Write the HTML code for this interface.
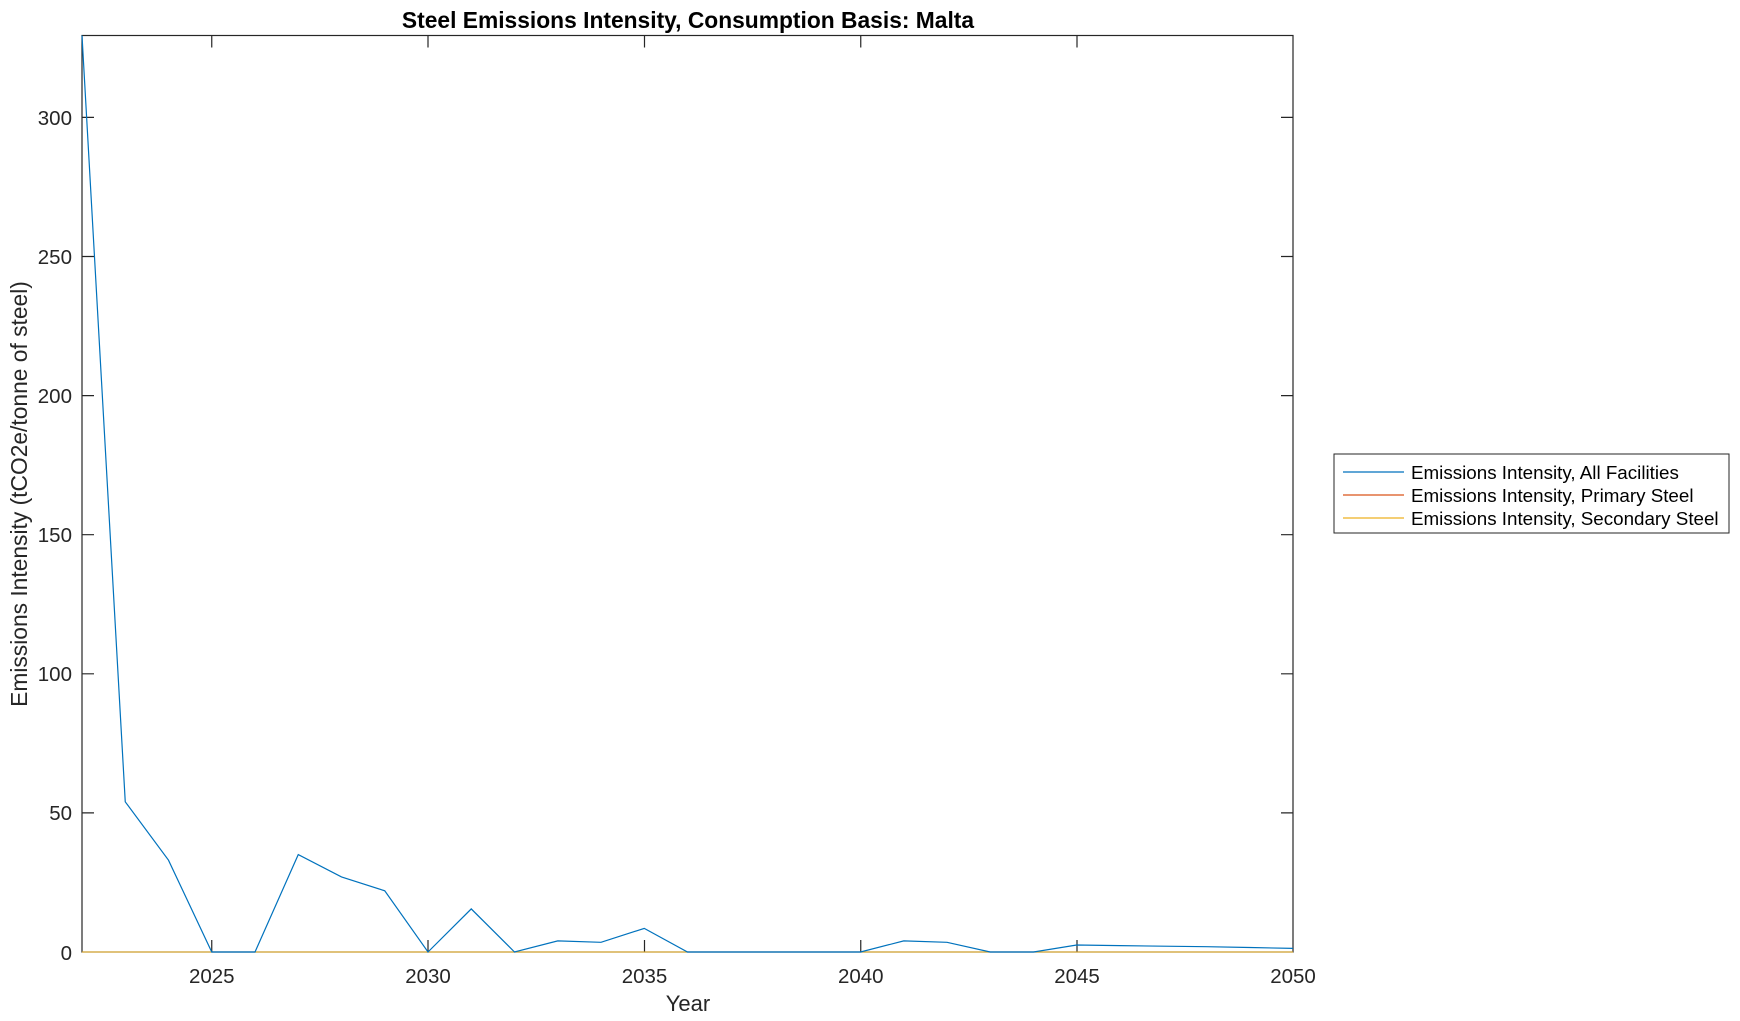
<!DOCTYPE html>
<html><head><meta charset="utf-8"><style>html,body{margin:0;padding:0;background:#fff}svg{display:block}</style></head>
<body>
<svg width="1740" height="1021" xmlns="http://www.w3.org/2000/svg" font-family="Liberation Sans, sans-serif">
<rect width="1740" height="1021" fill="#fff"/>
<text x="688" y="28" text-anchor="middle" font-size="22.8" font-weight="bold" fill="#000">Steel Emissions Intensity, Consumption Basis: Malta</text>
<g stroke="#262626" stroke-width="1.2" fill="none">
<rect x="82" y="35.5" width="1211" height="916.5"/>
<path d="M211.75 952v-12M211.75 35.5v12M428 952v-12M428 35.5v12M644.5 952v-12M644.5 35.5v12M860.75 952v-12M860.75 35.5v12M1077 952v-12M1077 35.5v12"/>
<path d="M82 117.4h12M1293 117.4h-12M82 256.5h12M1293 256.5h-12M82 395.6h12M1293 395.6h-12M82 534.7h12M1293 534.7h-12M82 673.8h12M1293 673.8h-12M82 812.9h12M1293 812.9h-12"/>
</g>
<g font-size="20.5" fill="#262626" text-anchor="end">
<text x="72" y="125">300</text><text x="72" y="264">250</text><text x="72" y="403">200</text><text x="72" y="542">150</text><text x="72" y="681">100</text><text x="72" y="820">50</text><text x="72" y="960">0</text>
</g>
<g font-size="20.5" fill="#262626" text-anchor="middle">
<text x="211.75" y="983">2025</text><text x="428" y="983">2030</text><text x="644.5" y="983">2035</text><text x="860.75" y="983">2040</text><text x="1077" y="983">2045</text><text x="1293" y="983">2050</text>
</g>
<text x="688" y="1011" text-anchor="middle" font-size="22" fill="#262626">Year</text>
<text transform="translate(27,494) rotate(-90)" text-anchor="middle" font-size="22.8" fill="#262626">Emissions Intensity (tCO2e/tonne of steel)</text>
<line x1="82" y1="952" x2="1293" y2="952" stroke="#D95319" stroke-width="1"/>
<line x1="82" y1="952" x2="1293" y2="952" stroke="#EDB120" stroke-width="1"/>
<polyline fill="none" stroke="#0072BD" stroke-width="1.2" points="82,35.5 125.25,801.8 168.5,860.2 211.75,952 255,952 298.25,854.6 341.5,876.9 384.75,890.8 428,952 471.25,908.9 514.5,952 557.75,940.9 601,942.3 644.25,928.4 687.5,952 730.75,952 774,952 817.25,952 860.5,952 903.75,940.9 947,942.3 990.25,952 1033.5,952 1076.75,945 1120,945.6 1163.25,946.2 1206.5,946.7 1249.75,947.5 1293,948.4"/>
<rect x="1334" y="454" width="395" height="79" fill="#fff" stroke="#262626" stroke-width="1"/>
<line x1="1343" y1="472" x2="1404" y2="472" stroke="#0072BD" stroke-width="1.2"/>
<line x1="1343" y1="495" x2="1404" y2="495" stroke="#D95319" stroke-width="1.2"/>
<line x1="1343" y1="518" x2="1404" y2="518" stroke="#EDB120" stroke-width="1.2"/>
<g font-size="18.8" fill="#000">
<text x="1411" y="479">Emissions Intensity, All Facilities</text>
<text x="1411" y="502">Emissions Intensity, Primary Steel</text>
<text x="1411" y="525">Emissions Intensity, Secondary Steel</text>
</g>
</svg>
</body></html>
